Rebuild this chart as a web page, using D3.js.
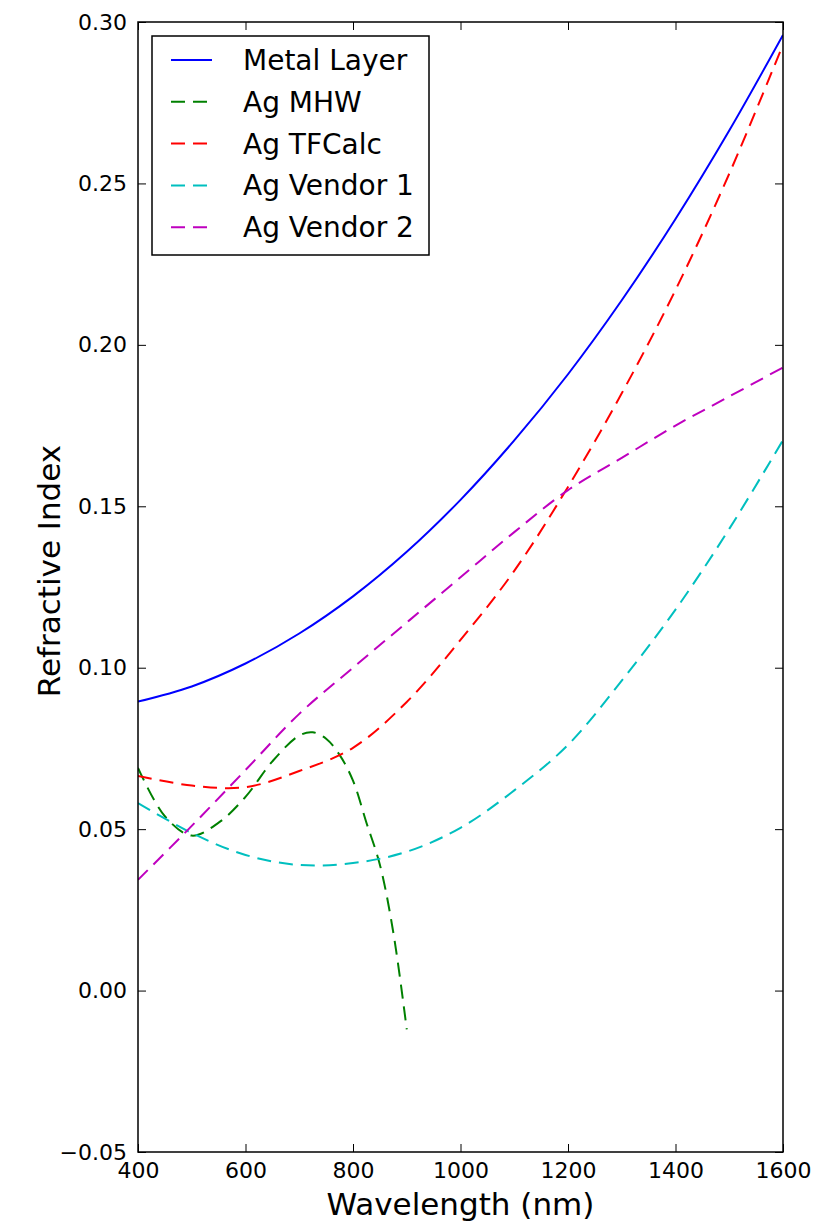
<!DOCTYPE html>
<html>
<head>
<meta charset="utf-8">
<script src="https://cdn.jsdelivr.net/npm/d3@7"></script>
<style>
  body { margin: 0; background: white; }
  #chart { width: 815px; height: 1226px; }
</style>
</head>
<body>
<div id="chart"></div>
<script>
// values
var wavelengths = [400, 500, 600, 700, 800, 900, 1000, 1100, 1200, 1300, 1400, 1500, 1600];
var metalLayer = [0.0895, 0.0942, 0.1013, 0.1106, 0.1221, 0.1359, 0.152, 0.1704, 0.1909, 0.2138, 0.239, 0.2664, 0.296];
var agTFCalc = [0.0665, 0.0635, 0.063, 0.068, 0.0752, 0.0894, 0.1086, 0.130, 0.156, 0.185, 0.217, 0.253, 0.293];
var agVendor1 = [0.0581, 0.0488, 0.042, 0.0389, 0.0395, 0.043, 0.0504, 0.062, 0.0761, 0.096, 0.118, 0.143, 0.1705];
var agVendor2 = [0.0343, 0.051, 0.0683, 0.0857, 0.100, 0.114, 0.128, 0.142, 0.155, 0.165, 0.175, 0.184, 0.193];

var mhwWavelengths = [400, 450, 500, 550, 600, 650, 700, 725, 750, 775, 800, 825, 850, 875, 900];
var agMHW = [0.069, 0.054, 0.048, 0.052, 0.060, 0.071, 0.079, 0.080, 0.078, 0.073, 0.065, 0.052, 0.039, 0.018, -0.012];

var xTicks = [400, 600, 800, 1000, 1200, 1400, 1600];
var yTicks = [-0.05, 0.00, 0.05, 0.10, 0.15, 0.20, 0.25, 0.30];

var seriesNames = ["Metal Layer", "Ag MHW", "Ag TFCalc", "Ag Vendor 1", "Ag Vendor 2"];
var colors = ["#0000ff", "#008000", "#ff0000", "#00bfbf", "#bf00bf"];

var width = 815, height = 1226;
var margin = { top: 22, right: 32, bottom: 74, left: 138 };
var graphWidth = width - margin.left - margin.right;
var graphHeight = height - margin.top - margin.bottom;
var font = "DejaVu Sans";
var dash = "14,8";

var svg = d3.select("#chart")
    .append("svg")
    .attr("width", width)
    .attr("height", height)
    .style("font-family", font);

var svg_g = svg.append("g")
    .attr("transform", `translate(${margin.left},${margin.top})`);

var xScale = d3.scaleLinear().domain([400, 1600]).range([0, graphWidth]);
var yScale = d3.scaleLinear().domain([-0.05, 0.30]).range([graphHeight, 0]);

svg_g.append("clipPath").attr("id", "plotclip")
    .append("rect").attr("width", graphWidth).attr("height", graphHeight);

function fmtY(d) {
    return d3.format(".2f")(d).replace("-", "\u2212");
}

function styleAxis(g, showText) {
    g.select(".domain").remove();
    g.selectAll(".tick line").attr("stroke", "#000").attr("stroke-width", 1);
    g.selectAll("text")
        .style("font-family", font)
        .style("font-size", "22px")
        .attr("fill", "#000");
    if (!showText) g.selectAll("text").remove();
}

// bottom / top
svg_g.append("g")
    .attr("transform", `translate(0,${graphHeight})`)
    .call(d3.axisBottom(xScale).tickValues(xTicks).tickSize(-8).tickPadding(10).tickFormat(d3.format("d")))
    .call(g => styleAxis(g, true));
svg_g.append("g")
    .call(d3.axisTop(xScale).tickValues(xTicks).tickSize(-8).tickFormat(""))
    .call(g => styleAxis(g, false));

// left / right
svg_g.append("g")
    .call(d3.axisLeft(yScale).tickValues(yTicks).tickSize(-8).tickPadding(11).tickFormat(fmtY))
    .call(g => styleAxis(g, true));
svg_g.append("g")
    .attr("transform", `translate(${graphWidth},0)`)
    .call(d3.axisRight(yScale).tickValues(yTicks).tickSize(-8).tickFormat(""))
    .call(g => styleAxis(g, false));

// lines
var line = d3.line()
    .x(p => xScale(p.x))
    .y(p => yScale(p.y))
    .curve(d3.curveCatmullRom.alpha(0.5));

function pairs(xs, ys) {
    return xs.map((x, i) => ({ x: x, y: ys[i] }));
}

var seriesData = [
    { name: seriesNames[0], color: colors[0], dashed: false, points: pairs(wavelengths, metalLayer) },
    { name: seriesNames[1], color: colors[1], dashed: true, points: pairs(mhwWavelengths, agMHW) },
    { name: seriesNames[2], color: colors[2], dashed: true, points: pairs(wavelengths, agTFCalc) },
    { name: seriesNames[3], color: colors[3], dashed: true, points: pairs(wavelengths, agVendor1) },
    { name: seriesNames[4], color: colors[4], dashed: true, points: pairs(wavelengths, agVendor2) }
];

var plot = svg_g.append("g").attr("clip-path", "url(#plotclip)");
seriesData.forEach(s => {
    plot.append("path")
        .datum(s.points)
        .attr("fill", "none")
        .attr("stroke", s.color)
        .attr("stroke-width", 2)
        .attr("stroke-dasharray", s.dashed ? dash : null)
        .attr("d", line);
});

// frame
svg_g.append("rect")
    .attr("width", graphWidth)
    .attr("height", graphHeight)
    .attr("fill", "none")
    .attr("stroke", "#000")
    .attr("stroke-width", 1.5);

// axis labels
svg.append("text")
    .attr("x", margin.left + graphWidth / 2)
    .attr("y", 1215)
    .attr("text-anchor", "middle")
    .style("font-size", "31px")
    .text("Wavelength (nm)");

svg.append("text")
    .attr("transform", "translate(60,571) rotate(-90)")
    .attr("text-anchor", "middle")
    .style("font-size", "31px")
    .text("Refractive Index");

// legend
var legend = svg.append("g").attr("transform", "translate(152,36)");
legend.append("rect")
    .attr("width", 277)
    .attr("height", 219)
    .attr("fill", "white")
    .attr("stroke", "#000")
    .attr("stroke-width", 1.5);

seriesData.forEach((s, i) => {
    var rowY = 24 + i * 41.8;
    legend.append("line")
        .attr("x1", 19).attr("x2", 60)
        .attr("y1", rowY).attr("y2", rowY)
        .attr("stroke", s.color)
        .attr("stroke-width", 2)
        .attr("stroke-dasharray", s.dashed ? dash : null);
    legend.append("text")
        .attr("x", 91)
        .attr("y", rowY + 10)
        .style("font-size", "28px")
        .text(s.name);
});
</script>
</body>
</html>
